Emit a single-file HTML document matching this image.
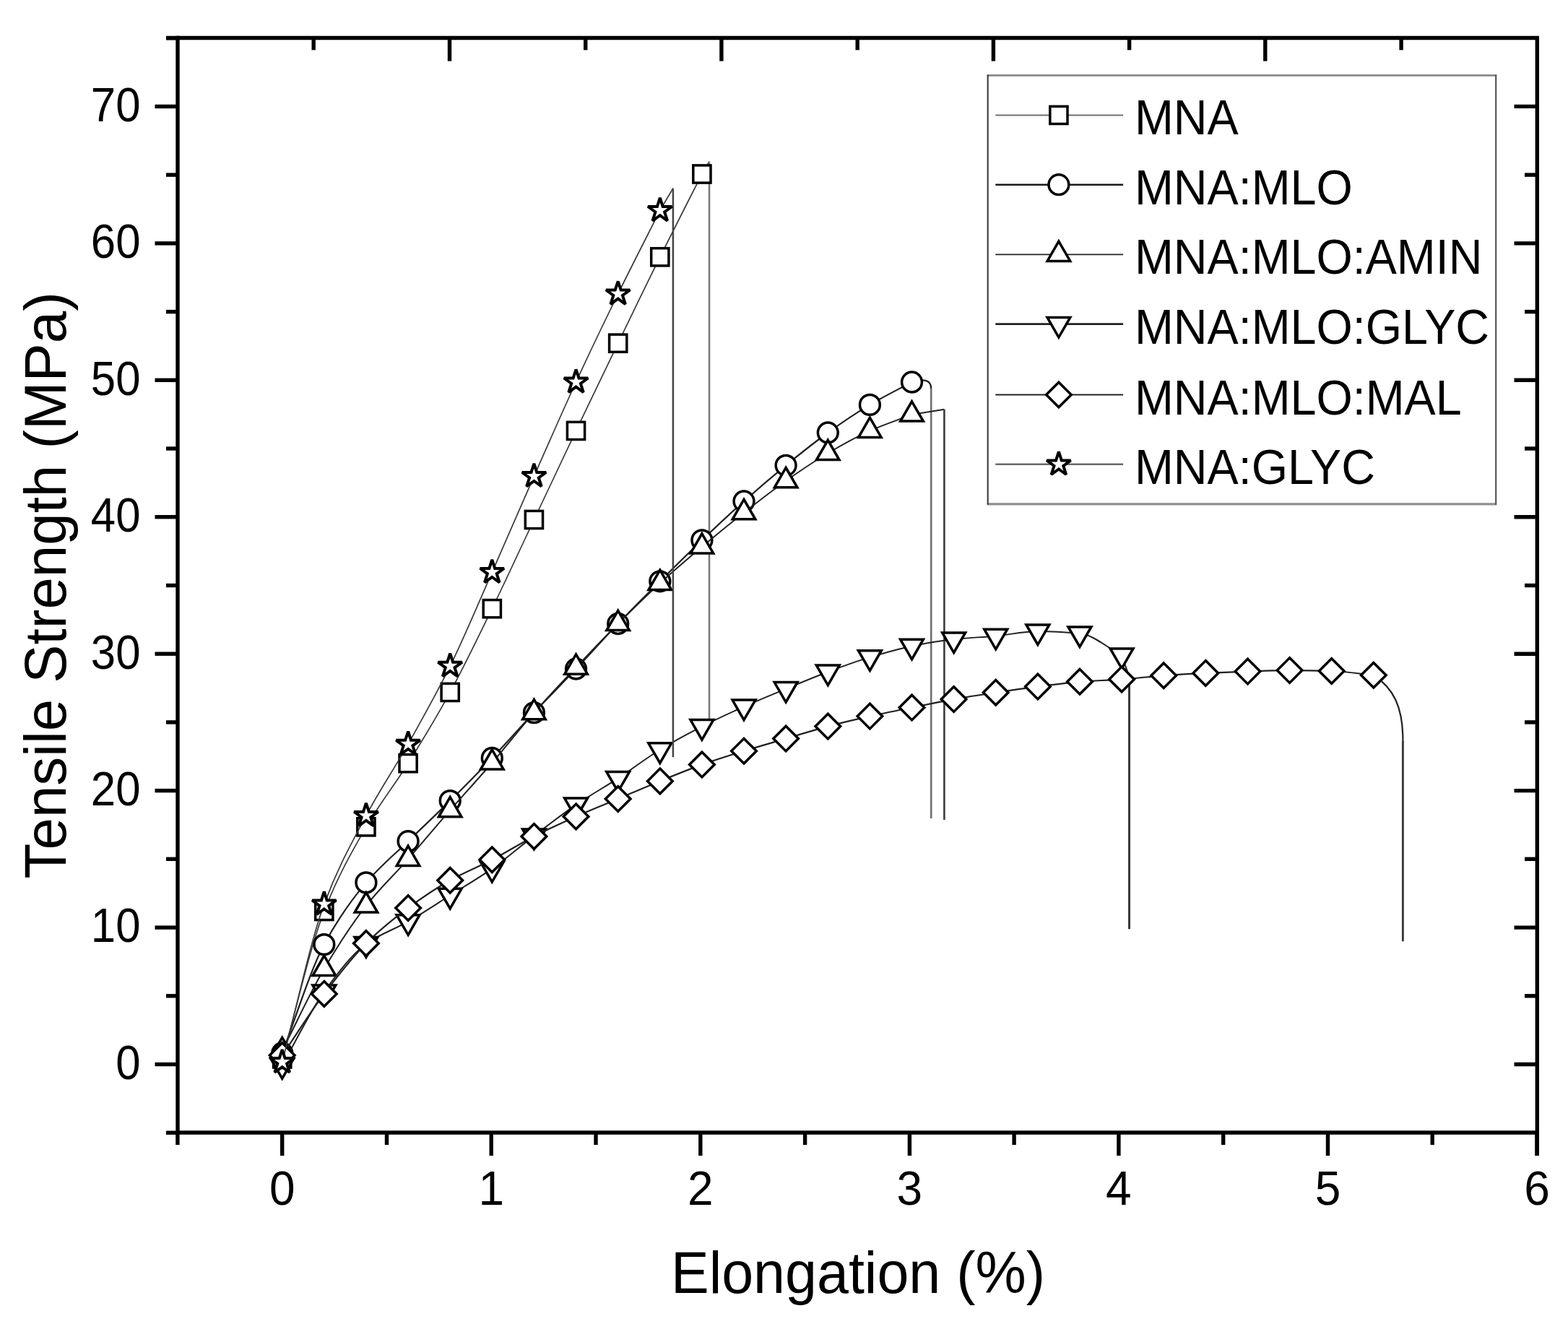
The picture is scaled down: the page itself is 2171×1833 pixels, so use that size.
<!DOCTYPE html>
<html><head><meta charset="utf-8"><title>Tensile Strength vs Elongation</title>
<style>
html,body{margin:0;padding:0;background:#fff;}
body{width:2171px;height:1833px;overflow:hidden;}
svg{display:block;}
.m{fill:#fff;stroke:#000;}
</style></head><body>
<svg width="2171" height="1833" viewBox="0 0 2171 1833">
<rect width="100%" height="100%" fill="#fff"/>
<path d="M390.7,1465.9 C410.1,1397.8 429.4,1311.0 448.8,1261.5 C468.2,1212.0 487.6,1178.3 506.9,1144.8 C526.3,1111.4 545.7,1087.7 565.1,1056.7 C584.4,1025.8 603.8,993.9 623.2,958.4 C642.6,923.0 661.9,882.4 681.3,842.7 C700.7,802.9 720.0,760.6 739.4,719.5 C758.8,678.5 778.2,637.1 797.5,596.4 C816.9,555.7 836.3,515.2 855.7,475.2 C875.0,435.1 894.4,394.8 913.8,355.8 C933.2,316.8 952.5,279.3 971.9,241.0 L982.0,223.8" fill="none" stroke="#3a3a3a" stroke-width="1.7"/>
<path d="M982.0,223.8 V998.0" fill="none" stroke="#7a7a7a" stroke-width="2.6"/>
<rect x="378.6" y="1453.8" width="24.2" height="24.2" class="m" stroke-width="3.5"/>
<rect x="436.7" y="1249.4" width="24.2" height="24.2" class="m" stroke-width="3.5"/>
<rect x="494.8" y="1132.7" width="24.2" height="24.2" class="m" stroke-width="3.5"/>
<rect x="553.0" y="1044.6" width="24.2" height="24.2" class="m" stroke-width="3.5"/>
<rect x="611.1" y="946.3" width="24.2" height="24.2" class="m" stroke-width="3.5"/>
<rect x="669.2" y="830.6" width="24.2" height="24.2" class="m" stroke-width="3.5"/>
<rect x="727.3" y="707.4" width="24.2" height="24.2" class="m" stroke-width="3.5"/>
<rect x="785.4" y="584.3" width="24.2" height="24.2" class="m" stroke-width="3.5"/>
<rect x="843.6" y="463.1" width="24.2" height="24.2" class="m" stroke-width="3.5"/>
<rect x="901.7" y="343.7" width="24.2" height="24.2" class="m" stroke-width="3.5"/>
<rect x="959.8" y="228.9" width="24.2" height="24.2" class="m" stroke-width="3.5"/>
<path d="M390.7,1458.0 C410.1,1407.8 429.4,1343.9 448.8,1307.6 C468.2,1271.2 487.6,1244.8 506.9,1221.9 C526.3,1199.1 545.7,1183.6 565.1,1164.7 C584.4,1145.8 603.8,1127.8 623.2,1108.6 C642.6,1089.5 661.9,1069.8 681.3,1049.5 C700.7,1029.2 720.0,1007.2 739.4,986.6 C758.8,966.1 778.2,946.5 797.5,926.0 C816.9,905.5 836.3,883.7 855.7,863.5 C875.0,843.3 894.4,824.0 913.8,804.8 C933.2,785.5 952.5,766.4 971.9,747.9 C991.3,729.5 1010.6,711.2 1030.0,694.0 C1049.4,676.7 1068.8,660.1 1088.1,644.3 C1107.5,628.5 1126.9,612.9 1146.3,599.0 C1165.6,585.1 1185.0,572.0 1204.4,560.4 C1223.8,548.8 1243.1,539.4 1262.5,529.0 C1279.5,524.0 1289.2,526.0 1289.2,538.0" fill="none" stroke="#202020" stroke-width="2.2"/>
<path d="M1289.2,538.0 V1133.0" fill="none" stroke="#6e6e6e" stroke-width="2.6"/>
<circle cx="390.7" cy="1458.0" r="13.9" class="m" stroke-width="3.5"/>
<circle cx="448.8" cy="1307.6" r="13.9" class="m" stroke-width="3.5"/>
<circle cx="506.9" cy="1221.9" r="13.9" class="m" stroke-width="3.5"/>
<circle cx="565.1" cy="1164.7" r="13.9" class="m" stroke-width="3.5"/>
<circle cx="623.2" cy="1108.6" r="13.9" class="m" stroke-width="3.5"/>
<circle cx="681.3" cy="1049.5" r="13.9" class="m" stroke-width="3.5"/>
<circle cx="739.4" cy="986.6" r="13.9" class="m" stroke-width="3.5"/>
<circle cx="797.5" cy="926.0" r="13.9" class="m" stroke-width="3.5"/>
<circle cx="855.7" cy="863.5" r="13.9" class="m" stroke-width="3.5"/>
<circle cx="913.8" cy="804.8" r="13.9" class="m" stroke-width="3.5"/>
<circle cx="971.9" cy="747.9" r="13.9" class="m" stroke-width="3.5"/>
<circle cx="1030.0" cy="694.0" r="13.9" class="m" stroke-width="3.5"/>
<circle cx="1088.1" cy="644.3" r="13.9" class="m" stroke-width="3.5"/>
<circle cx="1146.3" cy="599.0" r="13.9" class="m" stroke-width="3.5"/>
<circle cx="1204.4" cy="560.4" r="13.9" class="m" stroke-width="3.5"/>
<circle cx="1262.5" cy="529.0" r="13.9" class="m" stroke-width="3.5"/>
<path d="M390.7,1454.6 C410.1,1416.8 429.4,1374.1 448.8,1341.3 C468.2,1308.4 487.6,1278.7 506.9,1253.9 C526.3,1229.2 545.7,1211.4 565.1,1189.3 C584.4,1167.3 603.8,1143.9 623.2,1121.7 C642.6,1099.5 661.9,1078.5 681.3,1056.0 C700.7,1033.5 720.0,1008.6 739.4,986.6 C758.8,964.7 778.2,944.6 797.5,924.1 C816.9,903.6 836.3,882.9 855.7,863.5 C875.0,844.1 894.4,825.1 913.8,807.4 C933.2,789.7 952.5,773.3 971.9,757.0 C991.3,740.8 1010.6,724.9 1030.0,709.7 C1049.4,694.5 1068.8,679.4 1088.1,665.7 C1107.5,652.1 1126.9,638.9 1146.3,627.5 C1165.6,616.0 1185.0,605.1 1204.4,596.4 C1223.8,587.7 1243.1,581.5 1262.5,574.0 L1307.4,566.7" fill="none" stroke="#202020" stroke-width="2.0"/>
<path d="M1307.4,566.7 V1135.0" fill="none" stroke="#3c3c3c" stroke-width="2.6"/>
<path d="M390.7,1436.4L406.5,1463.7L374.9,1463.7Z" class="m" stroke-width="3.5"/>
<path d="M448.8,1323.1L464.6,1350.4L433.1,1350.4Z" class="m" stroke-width="3.5"/>
<path d="M506.9,1235.7L522.7,1263.0L491.2,1263.0Z" class="m" stroke-width="3.5"/>
<path d="M565.1,1171.1L580.8,1198.4L549.3,1198.4Z" class="m" stroke-width="3.5"/>
<path d="M623.2,1103.5L638.9,1130.8L607.4,1130.8Z" class="m" stroke-width="3.5"/>
<path d="M681.3,1037.8L697.1,1065.1L665.5,1065.1Z" class="m" stroke-width="3.5"/>
<path d="M739.4,968.4L755.2,995.7L723.7,995.7Z" class="m" stroke-width="3.5"/>
<path d="M797.5,905.9L813.3,933.2L781.8,933.2Z" class="m" stroke-width="3.5"/>
<path d="M855.7,845.3L871.4,872.6L839.9,872.6Z" class="m" stroke-width="3.5"/>
<path d="M913.8,789.2L929.5,816.5L898.0,816.5Z" class="m" stroke-width="3.5"/>
<path d="M971.9,738.8L987.7,766.1L956.1,766.1Z" class="m" stroke-width="3.5"/>
<path d="M1030.0,691.5L1045.8,718.8L1014.3,718.8Z" class="m" stroke-width="3.5"/>
<path d="M1088.1,647.5L1103.9,674.8L1072.4,674.8Z" class="m" stroke-width="3.5"/>
<path d="M1146.3,609.3L1162.0,636.6L1130.5,636.6Z" class="m" stroke-width="3.5"/>
<path d="M1204.4,578.2L1220.1,605.5L1188.6,605.5Z" class="m" stroke-width="3.5"/>
<path d="M1262.5,555.8L1278.3,583.1L1246.7,583.1Z" class="m" stroke-width="3.5"/>
<path d="M390.7,1474.8 C410.1,1440.9 429.4,1399.9 448.8,1373.1 C468.2,1346.3 487.6,1320.8 506.9,1306.8 C526.3,1292.7 545.7,1287.0 565.1,1275.9 C584.4,1264.8 603.8,1251.8 623.2,1239.5 C642.6,1227.3 661.9,1216.2 681.3,1202.6 C700.7,1189.0 720.0,1171.9 739.4,1157.1 C758.8,1142.4 778.2,1127.3 797.5,1114.1 C816.9,1101.0 836.3,1090.2 855.7,1077.6 C875.0,1064.9 894.4,1049.8 913.8,1038.0 C933.2,1026.1 952.5,1015.7 971.9,1005.8 C991.3,995.9 1010.6,987.0 1030.0,978.3 C1049.4,969.6 1068.8,961.7 1088.1,953.7 C1107.5,945.7 1126.9,937.4 1146.3,930.2 C1165.6,922.9 1185.0,915.8 1204.4,909.9 C1223.8,904.1 1243.1,898.3 1262.5,894.4 C1281.9,890.5 1301.2,887.2 1320.6,885.1 C1340.0,883.0 1359.4,882.2 1378.7,880.4 C1398.1,878.6 1417.5,874.1 1436.9,874.1 C1456.2,874.1 1475.6,875.3 1495.0,877.1 C1514.4,879.0 1533.7,897.1 1553.1,907.1 L1563.5,937.1" fill="none" stroke="#202020" stroke-width="2.0"/>
<path d="M1563.5,937.1 V1286.3" fill="none" stroke="#333333" stroke-width="2.9"/>
<path d="M390.7,1493.2L406.6,1465.6L374.8,1465.6Z" class="m" stroke-width="3.5"/>
<path d="M448.8,1391.5L464.8,1363.9L432.9,1363.9Z" class="m" stroke-width="3.5"/>
<path d="M506.9,1325.2L522.9,1297.6L491.0,1297.6Z" class="m" stroke-width="3.5"/>
<path d="M565.1,1294.3L581.0,1266.7L549.1,1266.7Z" class="m" stroke-width="3.5"/>
<path d="M623.2,1257.9L639.1,1230.3L607.2,1230.3Z" class="m" stroke-width="3.5"/>
<path d="M681.3,1221.0L697.2,1193.4L665.4,1193.4Z" class="m" stroke-width="3.5"/>
<path d="M739.4,1175.5L755.4,1147.9L723.5,1147.9Z" class="m" stroke-width="3.5"/>
<path d="M797.5,1132.5L813.5,1104.9L781.6,1104.9Z" class="m" stroke-width="3.5"/>
<path d="M855.7,1096.0L871.6,1068.4L839.7,1068.4Z" class="m" stroke-width="3.5"/>
<path d="M913.8,1056.4L929.7,1028.8L897.8,1028.8Z" class="m" stroke-width="3.5"/>
<path d="M971.9,1024.2L987.8,996.6L956.0,996.6Z" class="m" stroke-width="3.5"/>
<path d="M1030.0,996.7L1046.0,969.1L1014.1,969.1Z" class="m" stroke-width="3.5"/>
<path d="M1088.1,972.1L1104.1,944.5L1072.2,944.5Z" class="m" stroke-width="3.5"/>
<path d="M1146.3,948.6L1162.2,921.0L1130.3,921.0Z" class="m" stroke-width="3.5"/>
<path d="M1204.4,928.3L1220.3,900.7L1188.4,900.7Z" class="m" stroke-width="3.5"/>
<path d="M1262.5,912.8L1278.4,885.2L1246.6,885.2Z" class="m" stroke-width="3.5"/>
<path d="M1320.6,903.5L1336.6,875.9L1304.7,875.9Z" class="m" stroke-width="3.5"/>
<path d="M1378.7,898.8L1394.7,871.2L1362.8,871.2Z" class="m" stroke-width="3.5"/>
<path d="M1436.9,892.5L1452.8,864.9L1420.9,864.9Z" class="m" stroke-width="3.5"/>
<path d="M1495.0,895.5L1510.9,867.9L1479.0,867.9Z" class="m" stroke-width="3.5"/>
<path d="M1553.1,925.5L1569.0,897.9L1537.2,897.9Z" class="m" stroke-width="3.5"/>
<path d="M390.7,1461.0 C410.1,1432.6 429.4,1401.5 448.8,1375.9 C468.2,1350.4 487.6,1325.3 506.9,1306.0 C526.3,1286.8 545.7,1271.3 565.1,1257.0 C584.4,1242.6 603.8,1229.6 623.2,1218.7 C642.6,1207.8 661.9,1200.4 681.3,1190.3 C700.7,1180.2 720.0,1167.8 739.4,1157.9 C758.8,1148.0 778.2,1139.0 797.5,1130.4 C816.9,1121.8 836.3,1114.2 855.7,1106.0 C875.0,1097.8 894.4,1089.2 913.8,1081.4 C933.2,1073.5 952.5,1065.5 971.9,1058.6 C991.3,1051.7 1010.6,1045.7 1030.0,1039.7 C1049.4,1033.7 1068.8,1028.3 1088.1,1022.6 C1107.5,1016.9 1126.9,1010.7 1146.3,1005.6 C1165.6,1000.5 1185.0,995.9 1204.4,991.6 C1223.8,987.3 1243.1,983.5 1262.5,979.6 C1281.9,975.7 1301.2,971.5 1320.6,968.1 C1340.0,964.6 1359.4,961.7 1378.7,958.8 C1398.1,955.9 1417.5,953.1 1436.9,950.6 C1456.2,948.2 1475.6,945.3 1495.0,943.8 C1514.4,942.3 1533.7,941.8 1553.1,940.4 C1572.5,939.1 1591.8,936.7 1611.2,935.3 C1630.6,933.9 1650.0,932.8 1669.3,931.9 C1688.7,931.0 1708.1,930.2 1727.5,929.6 C1746.8,929.0 1766.2,928.1 1785.6,928.1 C1805.0,928.1 1824.3,928.5 1843.7,929.0 C1863.1,929.6 1882.4,932.8 1901.8,934.7 C1929.8,952.7 1942.4,979.7 1942.4,1024.7" fill="none" stroke="#202020" stroke-width="2.2"/>
<path d="M1942.4,1024.7 V1303.3" fill="none" stroke="#3a3a3a" stroke-width="2.9"/>
<path d="M390.7,1443.7L408.0,1461.0L390.7,1478.3L373.4,1461.0Z" class="m" stroke-width="3.5"/>
<path d="M448.8,1358.6L466.1,1375.9L448.8,1393.2L431.5,1375.9Z" class="m" stroke-width="3.5"/>
<path d="M506.9,1288.7L524.2,1306.0L506.9,1323.3L489.6,1306.0Z" class="m" stroke-width="3.5"/>
<path d="M565.1,1239.7L582.4,1257.0L565.1,1274.3L547.8,1257.0Z" class="m" stroke-width="3.5"/>
<path d="M623.2,1201.4L640.5,1218.7L623.2,1236.0L605.9,1218.7Z" class="m" stroke-width="3.5"/>
<path d="M681.3,1173.0L698.6,1190.3L681.3,1207.6L664.0,1190.3Z" class="m" stroke-width="3.5"/>
<path d="M739.4,1140.6L756.7,1157.9L739.4,1175.2L722.1,1157.9Z" class="m" stroke-width="3.5"/>
<path d="M797.5,1113.1L814.8,1130.4L797.5,1147.7L780.2,1130.4Z" class="m" stroke-width="3.5"/>
<path d="M855.7,1088.7L873.0,1106.0L855.7,1123.3L838.4,1106.0Z" class="m" stroke-width="3.5"/>
<path d="M913.8,1064.1L931.1,1081.4L913.8,1098.7L896.5,1081.4Z" class="m" stroke-width="3.5"/>
<path d="M971.9,1041.3L989.2,1058.6L971.9,1075.9L954.6,1058.6Z" class="m" stroke-width="3.5"/>
<path d="M1030.0,1022.4L1047.3,1039.7L1030.0,1057.0L1012.7,1039.7Z" class="m" stroke-width="3.5"/>
<path d="M1088.1,1005.3L1105.4,1022.6L1088.1,1039.9L1070.8,1022.6Z" class="m" stroke-width="3.5"/>
<path d="M1146.3,988.3L1163.6,1005.6L1146.3,1022.9L1129.0,1005.6Z" class="m" stroke-width="3.5"/>
<path d="M1204.4,974.3L1221.7,991.6L1204.4,1008.9L1187.1,991.6Z" class="m" stroke-width="3.5"/>
<path d="M1262.5,962.3L1279.8,979.6L1262.5,996.9L1245.2,979.6Z" class="m" stroke-width="3.5"/>
<path d="M1320.6,950.8L1337.9,968.1L1320.6,985.4L1303.3,968.1Z" class="m" stroke-width="3.5"/>
<path d="M1378.7,941.5L1396.0,958.8L1378.7,976.1L1361.4,958.8Z" class="m" stroke-width="3.5"/>
<path d="M1436.9,933.3L1454.2,950.6L1436.9,967.9L1419.6,950.6Z" class="m" stroke-width="3.5"/>
<path d="M1495.0,926.5L1512.3,943.8L1495.0,961.1L1477.7,943.8Z" class="m" stroke-width="3.5"/>
<path d="M1553.1,923.1L1570.4,940.4L1553.1,957.7L1535.8,940.4Z" class="m" stroke-width="3.5"/>
<path d="M1611.2,918.0L1628.5,935.3L1611.2,952.6L1593.9,935.3Z" class="m" stroke-width="3.5"/>
<path d="M1669.3,914.6L1686.6,931.9L1669.3,949.2L1652.0,931.9Z" class="m" stroke-width="3.5"/>
<path d="M1727.5,912.3L1744.8,929.6L1727.5,946.9L1710.2,929.6Z" class="m" stroke-width="3.5"/>
<path d="M1785.6,910.8L1802.9,928.1L1785.6,945.4L1768.3,928.1Z" class="m" stroke-width="3.5"/>
<path d="M1843.7,911.7L1861.0,929.0L1843.7,946.3L1826.4,929.0Z" class="m" stroke-width="3.5"/>
<path d="M1901.8,917.4L1919.1,934.7L1901.8,952.0L1884.5,934.7Z" class="m" stroke-width="3.5"/>
<path d="M390.7,1470.5 C410.1,1397.6 429.4,1304.2 448.8,1251.9 C468.2,1199.5 487.6,1165.8 506.9,1129.3 C526.3,1092.8 545.7,1064.7 565.1,1030.2 C584.4,995.8 603.8,961.5 623.2,922.2 C642.6,882.9 661.9,836.1 681.3,792.3 C700.7,748.5 720.0,703.2 739.4,659.3 C758.8,615.4 778.2,571.0 797.5,529.0 C816.9,486.9 836.3,446.5 855.7,407.0 C875.0,367.4 894.4,329.9 913.8,291.4 L931.9,260.8" fill="none" stroke="#3a3a3a" stroke-width="1.7"/>
<path d="M931.9,260.8 V1048.2" fill="none" stroke="#444444" stroke-width="2.5"/>
<path d="M390.7,1453.0L394.6,1465.1L407.3,1465.1L397.1,1472.5L401.0,1484.6L390.7,1477.2L380.4,1484.6L384.3,1472.5L374.1,1465.1L386.8,1465.1Z" class="m" stroke-width="4.0" stroke-miterlimit="2"/>
<path d="M448.8,1234.4L452.7,1246.4L465.5,1246.4L455.2,1253.9L459.1,1266.0L448.8,1258.5L438.5,1266.0L442.5,1253.9L432.2,1246.4L444.9,1246.4Z" class="m" stroke-width="4.0" stroke-miterlimit="2"/>
<path d="M506.9,1111.8L510.9,1123.9L523.6,1123.9L513.3,1131.4L517.2,1143.4L506.9,1136.0L496.7,1143.4L500.6,1131.4L490.3,1123.9L503.0,1123.9Z" class="m" stroke-width="4.0" stroke-miterlimit="2"/>
<path d="M565.1,1012.7L569.0,1024.8L581.7,1024.8L571.4,1032.3L575.3,1044.4L565.1,1036.9L554.8,1044.4L558.7,1032.3L548.4,1024.8L561.1,1024.8Z" class="m" stroke-width="4.0" stroke-miterlimit="2"/>
<path d="M623.2,904.7L627.1,916.8L639.8,916.8L629.5,924.3L633.5,936.4L623.2,928.9L612.9,936.4L616.8,924.3L606.5,916.8L619.3,916.8Z" class="m" stroke-width="4.0" stroke-miterlimit="2"/>
<path d="M681.3,774.8L685.2,786.9L697.9,786.9L687.7,794.3L691.6,806.4L681.3,799.0L671.0,806.4L674.9,794.3L664.7,786.9L677.4,786.9Z" class="m" stroke-width="4.0" stroke-miterlimit="2"/>
<path d="M739.4,641.8L743.3,653.9L756.1,653.9L745.8,661.4L749.7,673.4L739.4,666.0L729.1,673.4L733.1,661.4L722.8,653.9L735.5,653.9Z" class="m" stroke-width="4.0" stroke-miterlimit="2"/>
<path d="M797.5,511.5L801.5,523.5L814.2,523.5L803.9,531.0L807.8,543.1L797.5,535.6L787.3,543.1L791.2,531.0L780.9,523.5L793.6,523.5Z" class="m" stroke-width="4.0" stroke-miterlimit="2"/>
<path d="M855.7,389.5L859.6,401.5L872.3,401.5L862.0,409.0L865.9,421.1L855.7,413.6L845.4,421.1L849.3,409.0L839.0,401.5L851.7,401.5Z" class="m" stroke-width="4.0" stroke-miterlimit="2"/>
<path d="M913.8,273.9L917.7,286.0L930.4,286.0L920.1,293.5L924.1,305.6L913.8,298.1L903.5,305.6L907.4,293.5L897.1,286.0L909.9,286.0Z" class="m" stroke-width="4.0" stroke-miterlimit="2"/>
<g stroke="#000" stroke-width="5.4" fill="none"><path d="M246.0,49.8 V1568.0" /><path d="M243.3,1568.0 H2128.3" /><path d="M230,52.5 H2131.0" /><path d="M2128.3,52.5 V1600" /><path d="M214.5,1473.5 H246.0"/><path d="M214.5,1284.1 H246.0"/><path d="M214.5,1094.6 H246.0"/><path d="M214.5,905.2 H246.0"/><path d="M214.5,715.7 H246.0"/><path d="M214.5,526.3 H246.0"/><path d="M214.5,336.9 H246.0"/><path d="M214.5,147.4 H246.0"/><path d="M230,1568.2 H246.0"/><path d="M230,1378.8 H246.0"/><path d="M230,1189.3 H246.0"/><path d="M230,999.9 H246.0"/><path d="M230,810.5 H246.0"/><path d="M230,621.0 H246.0"/><path d="M230,431.6 H246.0"/><path d="M230,242.1 H246.0"/><path d="M230,52.7 H246.0"/><path d="M2096.5,1473.5 H2128.3"/><path d="M2096.5,1284.1 H2128.3"/><path d="M2096.5,1094.6 H2128.3"/><path d="M2096.5,905.2 H2128.3"/><path d="M2096.5,715.7 H2128.3"/><path d="M2096.5,526.3 H2128.3"/><path d="M2096.5,336.9 H2128.3"/><path d="M2096.5,147.4 H2128.3"/><path d="M2111,1378.8 H2128.3"/><path d="M2111,1189.3 H2128.3"/><path d="M2111,999.9 H2128.3"/><path d="M2111,810.5 H2128.3"/><path d="M2111,621.0 H2128.3"/><path d="M2111,431.6 H2128.3"/><path d="M2111,242.1 H2128.3"/><path d="M390.7,1568.0 V1600"/><path d="M680.2,1568.0 V1600"/><path d="M969.8,1568.0 V1600"/><path d="M1259.4,1568.0 V1600"/><path d="M1548.9,1568.0 V1600"/><path d="M1838.5,1568.0 V1600"/><path d="M2128.0,1568.0 V1600"/><path d="M245.9,1568.0 V1585"/><path d="M535.5,1568.0 V1585"/><path d="M825.0,1568.0 V1585"/><path d="M1114.6,1568.0 V1585"/><path d="M1404.1,1568.0 V1585"/><path d="M1693.7,1568.0 V1585"/><path d="M1983.2,1568.0 V1585"/><path d="M622.5,52.5 V84.6"/><path d="M998.9,52.5 V84.6"/><path d="M1375.4,52.5 V84.6"/><path d="M1751.8,52.5 V84.6"/><path d="M434.2,52.5 V69.3"/><path d="M810.7,52.5 V69.3"/><path d="M1187.2,52.5 V69.3"/><path d="M1563.6,52.5 V69.3"/><path d="M1940.1,52.5 V69.3"/></g>
<g font-family="Liberation Sans, Arial, sans-serif" font-size="64" fill="#000"><text transform="translate(390.7,1668) scale(1,1.035)" text-anchor="middle">0</text><text transform="translate(680.2,1668) scale(1,1.035)" text-anchor="middle">1</text><text transform="translate(969.8,1668) scale(1,1.035)" text-anchor="middle">2</text><text transform="translate(1259.4,1668) scale(1,1.035)" text-anchor="middle">3</text><text transform="translate(1548.9,1668) scale(1,1.035)" text-anchor="middle">4</text><text transform="translate(1838.5,1668) scale(1,1.035)" text-anchor="middle">5</text><text transform="translate(2128.0,1668) scale(1,1.035)" text-anchor="middle">6</text><text transform="translate(194.5,1493.8) scale(0.965,1.045)" text-anchor="end">0</text><text transform="translate(194.5,1304.4) scale(0.965,1.045)" text-anchor="end">10</text><text transform="translate(194.5,1114.9) scale(0.965,1.045)" text-anchor="end">20</text><text transform="translate(194.5,925.5) scale(0.965,1.045)" text-anchor="end">30</text><text transform="translate(194.5,736.0) scale(0.965,1.045)" text-anchor="end">40</text><text transform="translate(194.5,546.6) scale(0.965,1.045)" text-anchor="end">50</text><text transform="translate(194.5,357.2) scale(0.965,1.045)" text-anchor="end">60</text><text transform="translate(194.5,167.7) scale(0.965,1.045)" text-anchor="end">70</text></g>
<text transform="translate(1188,1790) scale(1,1.025)" text-anchor="middle" font-family="Liberation Sans, Arial, sans-serif" font-size="79" fill="#000">Elongation (%)</text>
<text transform="translate(91.1,810.3) rotate(-90) scale(1.011,1.03)" text-anchor="middle" font-family="Liberation Sans, Arial, sans-serif" font-size="79" fill="#000">Tensile Strength (MPa)</text>
<rect x="1367.7" y="104.4" width="703.5" height="593.4" fill="#fff"/><path d="M1366.7,104.4 H2072.2" stroke="#8a8a8a" stroke-width="2.6"/><path d="M1366.7,697.8 H2072.2" stroke="#8f8f8f" stroke-width="3.2"/><path d="M1367.7,103.4 V698.8" stroke="#3c3c3c" stroke-width="2.1"/><path d="M2071.2,103.4 V698.8" stroke="#505050" stroke-width="2.1"/><path d="M1378.3,159.4 H1555.1" stroke="#707070" stroke-width="2.0"/><rect x="1453.8" y="147.3" width="24.2" height="24.2" class="m" stroke-width="3.5"/><text transform="translate(1571,186.4) scale(0.995,1.045)" font-family="Liberation Sans, Arial, sans-serif" font-size="65" fill="#000">MNA</text><path d="M1378.3,255.7 H1555.1" stroke="#1a1a1a" stroke-width="2.6"/><circle cx="1465.9" cy="255.7" r="13.9" class="m" stroke-width="3.5"/><text transform="translate(1571,282.7) scale(0.995,1.045)" font-family="Liberation Sans, Arial, sans-serif" font-size="65" fill="#000">MNA:MLO</text><path d="M1378.3,352.3 H1555.1" stroke="#222" stroke-width="1.8"/><path d="M1465.9,334.1L1481.7,361.4L1450.1,361.4Z" class="m" stroke-width="3.5"/><text transform="translate(1571,379.3) scale(0.995,1.045)" font-family="Liberation Sans, Arial, sans-serif" font-size="65" fill="#000">MNA:MLO:AMIN</text><path d="M1378.3,448.6 H1555.1" stroke="#222" stroke-width="2.6"/><path d="M1465.9,467.0L1481.8,439.4L1450.0,439.4Z" class="m" stroke-width="3.5"/><text transform="translate(1571,475.6) scale(0.995,1.045)" font-family="Liberation Sans, Arial, sans-serif" font-size="65" fill="#000">MNA:MLO:GLYC</text><path d="M1378.3,546.5 H1555.1" stroke="#222" stroke-width="2.0"/><path d="M1465.9,529.2L1483.2,546.5L1465.9,563.8L1448.6,546.5Z" class="m" stroke-width="3.5"/><text transform="translate(1571,573.5) scale(0.995,1.045)" font-family="Liberation Sans, Arial, sans-serif" font-size="65" fill="#000">MNA:MLO:MAL</text><path d="M1378.3,642.8 H1555.1" stroke="#6a6a6a" stroke-width="2.4"/><path d="M1465.9,625.3L1469.8,637.4L1482.5,637.4L1472.3,644.9L1476.2,657.0L1465.9,649.5L1455.6,657.0L1459.5,644.9L1449.3,637.4L1462.0,637.4Z" class="m" stroke-width="4.0" stroke-miterlimit="2"/><text transform="translate(1571,669.8) scale(0.995,1.045)" font-family="Liberation Sans, Arial, sans-serif" font-size="65" fill="#000">MNA:GLYC</text>
</svg>
</body></html>
